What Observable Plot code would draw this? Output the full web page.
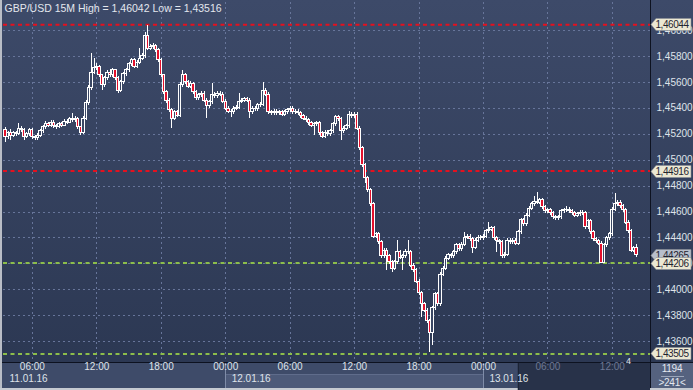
<!DOCTYPE html>
<html><head><meta charset="utf-8">
<script src="https://cdn.jsdelivr.net/npm/d3@7"></script>
<script src="https://cdn.jsdelivr.net/npm/@observablehq/plot@0.6"></script>
<style>
html,body{margin:0;padding:0;background:#ffffff;}
#wrap{position:relative;width:693px;height:390px;overflow:hidden;
  background:linear-gradient(to bottom,#3d4a69 0px,#2c3853 362px,#2c3853 390px);
  font-family:"Liberation Sans",Arial,sans-serif;}
#wrap .abs{position:absolute;}
#wrap svg{position:absolute;left:0;top:0;}
</style></head>
<body><div id="wrap">
  <div class="abs" style="left:0;top:363px;width:693px;height:27px;background:#3e4b69"></div>
  <div class="abs" style="left:0;top:362px;width:693px;height:1px;background:#0d1220"></div>
  <div class="abs" style="left:650px;top:0;width:1px;height:390px;background:#0d1220"></div>
  <div class="abs" style="left:651px;top:363px;width:42px;height:25px;background:#55627f"></div>
  <div class="abs" style="left:661px;top:376px;width:23px;height:1px;background:#9aa4b8"></div>
  <div class="abs" id="boxTop" style="left:651px;top:363px;width:42px;text-align:center;font-size:10px;letter-spacing:-0.3px;color:#e4e8ef"></div>
  <div class="abs" id="boxBot" style="left:651px;top:377px;width:42px;text-align:center;font-size:10px;letter-spacing:-0.3px;color:#e4e8ef"></div>
  <div class="abs" style="left:0;top:0;width:2px;height:390px;background:#b9bdc6"></div>
  <div class="abs" style="left:0;top:388px;width:693px;height:2px;background:#c6cad1"></div>
</div>
<script>
// ---------------- data ----------------
const titleText = "GBP/USD 15M High = 1,46042 Low = 1,43516";
const startTime = "2016-01-11T03:30:00Z";   // first 15-minute candle
const firstOpen = 1.45236;
const closes = [
1.45175,1.45206,1.45190,1.45206,1.45198,1.45244,1.45229,1.45182,1.45198,1.45229,
1.45175,1.45167,1.45190,1.45221,1.45252,1.45275,1.45267,1.45290,1.45260,1.45252,
1.45275,1.45267,1.45298,1.45290,1.45314,1.45306,1.45321,1.45252,1.45206,1.45321,
1.45437,1.45553,1.45676,1.45707,1.45722,1.45653,1.45576,1.45630,1.45676,1.45653,
1.45692,1.45630,1.45537,1.45599,1.45661,1.45692,1.45738,1.45769,1.45722,1.45753,
1.45784,1.45800,1.45961,1.45861,1.45869,1.45877,1.45846,1.45769,1.45653,1.45522,
1.45460,1.45383,1.45321,1.45368,1.45344,1.45576,1.45653,1.45599,1.45568,1.45584,
1.45522,1.45476,1.45499,1.45514,1.45460,1.45414,1.45445,1.45506,1.45491,1.45514,
1.45506,1.45452,1.45398,1.45375,1.45368,1.45398,1.45406,1.45452,1.45460,1.45468,
1.45460,1.45368,1.45398,1.45391,1.45422,1.45429,1.45537,1.45506,1.45368,1.45360,
1.45375,1.45360,1.45368,1.45352,1.45368,1.45383,1.45398,1.45368,1.45375,1.45360,
1.45337,1.45321,1.45306,1.45283,1.45267,1.45275,1.45283,1.45206,1.45182,1.45213,
1.45198,1.45221,1.45275,1.45329,1.45314,1.45221,1.45244,1.45260,1.45352,1.45337,
1.45352,1.45244,1.45090,1.44959,1.44859,1.44766,1.44658,1.44411,1.44427,1.44365,
1.44257,1.44303,1.44257,1.44211,1.44164,1.44211,1.44288,1.44249,1.44257,1.44295,
1.44288,1.44187,1.44149,1.44064,1.43972,1.43887,1.43840,1.43756,1.43663,1.43856,
1.43964,1.43887,1.44118,1.44164,1.44241,1.44265,1.44257,1.44288,1.44342,1.44311,
1.44349,1.44403,1.44411,1.44388,1.44326,1.44380,1.44403,1.44396,1.44411,1.44450,
1.44465,1.44473,1.44396,1.44373,1.44365,1.44257,1.44272,1.44380,1.44365,1.44380,
1.44357,1.44442,1.44535,1.44504,1.44573,1.44627,1.44658,1.44681,1.44673,1.44689,
1.44635,1.44604,1.44612,1.44589,1.44558,1.44550,1.44558,1.44604,1.44612,1.44619,
1.44604,1.44589,1.44573,1.44581,1.44596,1.44589,1.44481,1.44527,1.44442,1.44388,
1.44373,1.44357,1.44210,1.44342,1.44396,1.44427,1.44619,1.44658,1.44673,1.44643,
1.44612,1.44519,1.44450,1.44303,1.44319,1.44265];
const highs = [
1.45252,1.45221,1.45240,1.45221,1.45221,1.45283,1.45260,1.45244,1.45213,1.45244,
1.45244,1.45190,1.45206,1.45236,1.45267,1.45298,1.45290,1.45306,1.45306,1.45275,
1.45290,1.45290,1.45314,1.45314,1.45329,1.45360,1.45337,1.45329,1.45260,1.45337,
1.45460,1.45576,1.45823,1.45784,1.45745,1.45730,1.45661,1.45645,1.45692,1.45700,
1.45707,1.45700,1.45645,1.45615,1.45676,1.45707,1.45753,1.45784,1.45784,1.45769,
1.45861,1.45823,1.45984,1.46042,1.45892,1.45900,1.45892,1.45861,1.45784,1.45661,
1.45537,1.45476,1.45398,1.45383,1.45383,1.45599,1.45692,1.45668,1.45615,1.45607,
1.45599,1.45537,1.45514,1.45530,1.45530,1.45476,1.45460,1.45591,1.45522,1.45530,
1.45530,1.45522,1.45468,1.45414,1.45391,1.45414,1.45422,1.45514,1.45476,1.45483,
1.45483,1.45476,1.45414,1.45414,1.45437,1.45445,1.45599,1.45553,1.45522,1.45383,
1.45391,1.45391,1.45383,1.45383,1.45383,1.45398,1.45414,1.45414,1.45391,1.45391,
1.45375,1.45352,1.45337,1.45321,1.45298,1.45290,1.45298,1.45298,1.45221,1.45229,
1.45229,1.45236,1.45290,1.45344,1.45344,1.45329,1.45260,1.45275,1.45375,1.45368,
1.45368,1.45368,1.45260,1.45106,1.44974,1.44874,1.44781,1.44673,1.44442,1.44442,
1.44380,1.44319,1.44319,1.44273,1.44226,1.44226,1.44380,1.44303,1.44273,1.44311,
1.44380,1.44303,1.44203,1.44164,1.44079,1.43987,1.43902,1.43856,1.43771,1.43871,
1.43979,1.43979,1.44133,1.44180,1.44257,1.44280,1.44280,1.44303,1.44357,1.44357,
1.44365,1.44442,1.44427,1.44427,1.44403,1.44396,1.44419,1.44419,1.44427,1.44465,
1.44519,1.44488,1.44488,1.44411,1.44388,1.44380,1.44288,1.44396,1.44396,1.44396,
1.44396,1.44457,1.44550,1.44550,1.44588,1.44642,1.44673,1.44720,1.44751,1.44704,
1.44704,1.44650,1.44627,1.44627,1.44604,1.44573,1.44573,1.44619,1.44627,1.44642,
1.44635,1.44619,1.44604,1.44596,1.44612,1.44612,1.44604,1.44542,1.44542,1.44457,
1.44403,1.44388,1.44373,1.44357,1.44411,1.44442,1.44635,1.44743,1.44689,1.44689,
1.44658,1.44627,1.44534,1.44465,1.44334,1.44350];
const lows = [
1.45136,1.45160,1.45152,1.45175,1.45182,1.45190,1.45213,1.45152,1.45167,1.45182,
1.45160,1.45152,1.45152,1.45175,1.45206,1.45236,1.45252,1.45252,1.45244,1.45236,
1.45244,1.45252,1.45260,1.45275,1.45283,1.45290,1.45290,1.45236,1.45190,1.45198,
1.45306,1.45422,1.45537,1.45661,1.45692,1.45638,1.45537,1.45560,1.45615,1.45638,
1.45638,1.45615,1.45514,1.45522,1.45584,1.45645,1.45676,1.45722,1.45707,1.45707,
1.45738,1.45769,1.45784,1.45846,1.45846,1.45853,1.45830,1.45753,1.45638,1.45506,
1.45437,1.45368,1.45244,1.45306,1.45329,1.45329,1.45560,1.45584,1.45553,1.45553,
1.45506,1.45460,1.45460,1.45483,1.45445,1.45321,1.45398,1.45429,1.45476,1.45476,
1.45491,1.45437,1.45383,1.45360,1.45329,1.45352,1.45383,1.45391,1.45437,1.45445,
1.45445,1.45321,1.45352,1.45375,1.45375,1.45406,1.45414,1.45491,1.45352,1.45344,
1.45344,1.45344,1.45344,1.45337,1.45337,1.45352,1.45368,1.45352,1.45352,1.45344,
1.45321,1.45306,1.45290,1.45267,1.45252,1.45190,1.45260,1.45190,1.45167,1.45167,
1.45182,1.45182,1.45206,1.45260,1.45298,1.45152,1.45206,1.45229,1.45244,1.45321,
1.45321,1.45229,1.45075,1.44943,1.44820,1.44750,1.44642,1.44396,1.44396,1.44350,
1.44242,1.44242,1.44149,1.44195,1.44133,1.44149,1.44195,1.44234,1.44149,1.44242,
1.44273,1.44172,1.44133,1.44049,1.43956,1.43787,1.43825,1.43740,1.43516,1.43570,
1.43840,1.43871,1.43871,1.44103,1.44149,1.44226,1.44242,1.44242,1.44273,1.44295,
1.44295,1.44334,1.44388,1.44373,1.44280,1.44311,1.44365,1.44380,1.44380,1.44396,
1.44434,1.44450,1.44380,1.44288,1.44350,1.44242,1.44242,1.44257,1.44350,1.44350,
1.44342,1.44342,1.44427,1.44488,1.44488,1.44557,1.44611,1.44642,1.44658,1.44658,
1.44619,1.44588,1.44588,1.44573,1.44542,1.44535,1.44535,1.44542,1.44588,1.44596,
1.44588,1.44573,1.44557,1.44557,1.44565,1.44573,1.44465,1.44465,1.44427,1.44373,
1.44357,1.44342,1.44206,1.44206,1.44326,1.44380,1.44411,1.44604,1.44642,1.44627,
1.44596,1.44504,1.44434,1.44288,1.44288,1.44249];

const resistanceLevels = [1.46044, 1.44916];
const supportLevels = [1.44206, 1.43505];
const currentPrice = 1.44265;
const yTicks = [1.436,1.438,1.440,1.442,1.444,1.446,1.448,1.450,1.452,1.454,1.456,1.458,1.460];
const xTicks = ["2016-01-11T06:00Z","2016-01-11T12:00Z","2016-01-11T18:00Z","2016-01-12T00:00Z",
  "2016-01-12T06:00Z","2016-01-12T12:00Z","2016-01-12T18:00Z","2016-01-13T00:00Z",
  "2016-01-13T06:00Z","2016-01-13T12:00Z"].map(s => new Date(s));
const dayStarts = ["2016-01-11T00:00Z","2016-01-12T00:00Z","2016-01-13T00:00Z"].map(s => new Date(s));
const dayLabels = ["11.01.16","12.01.16","13.01.16"];
const shadeFrom = new Date("2016-01-13T03:15Z");   // dimmed part of the time bar
const markerLabel = "4";
const markerCandle = 232;
const barCount = "1194";
const visibleBars = ">241<";

// ---------------- build ----------------
const MIN = 60000;
const t0 = new Date(startTime);
const candles = closes.map((c, i) => ({
  date: new Date(+t0 + i * 15 * MIN),
  open: i ? closes[i - 1] : firstOpen,
  close: c, high: highs[i], low: lows[i]
}));
const bulls = candles.filter(d => d.close >= d.open);
const bears = candles.filter(d => d.close < d.open);
const xDomain = [new Date(+t0 - 11.17 * MIN), new Date(+t0 + 3603.2 * MIN)];
const fmtPrice = v => v.toFixed(5).replace(".", ",");
const fmtHM = d3.utcFormat("%H:%M");
const halfBody = 6.4 * MIN;

const tagData = [
  {value: resistanceLevels[0], fill: "#ebe8d3"},
  {value: resistanceLevels[1], fill: "#ebe8d3"},
  {value: currentPrice, fill: "#b8bfcb"},
  {value: supportLevels[0], fill: "#ebe8d3"},
  {value: supportLevels[1], fill: "#ebe8d3"}
];

function timeBar(index, scales, values, dims) {
  const g = d3.create("svg:g");
  const top = dims.height - dims.marginBottom;
  const right = dims.width - dims.marginRight;
  const x = scales.x;
  const a = x(dayStarts[1]), b = x(dayStarts[2]);
  g.append("rect").attr("x", a).attr("y", top + 12).attr("width", b - a).attr("height", 14).attr("fill", "#4d5a79");
  g.append("rect").attr("x", a).attr("y", top + 12).attr("width", b - a).attr("height", 1).attr("fill", "#5f6c8b");
  const s = x(shadeFrom);
  g.append("rect").attr("x", s).attr("y", top + 1).attr("width", right - s).attr("height", dims.height - top - 1).attr("fill", "#283249");
  g.append("rect").attr("x", s).attr("y", top + 1).attr("width", 1).attr("height", dims.height - top - 1).attr("fill", "#1a2133");
  for (const d of dayStarts) {
    const xd = x(d);
    if (xd > dims.marginLeft) g.append("rect").attr("x", Math.round(xd)).attr("y", top + 1).attr("width", 1).attr("height", dims.height - top - 3).attr("fill", "#7f8ca8");
  }
  return g.node();
}

function priceTags(index, scales, values, dims) {
  const g = d3.create("svg:g").attr("text-anchor", "start");
  const x0 = dims.width - dims.marginRight + 1;
  for (const t of tagData) {
    const y = Math.round(scales.y(t.value)) + 0.5;
    g.append("path")
      .attr("d", `M${x0},${y} L${x0 + 5},${y - 6} L${x0 + 40},${y - 6} L${x0 + 40},${y + 6} L${x0 + 5},${y + 6} Z`)
      .attr("fill", t.fill).attr("stroke", "#8a8f96").attr("stroke-width", 0.6);
    g.append("text").attr("x", x0 + 4.5).attr("y", y).attr("dy", "0.35em")
      .attr("text-anchor", "start")
      .attr("font-size", 10).attr("letter-spacing", "-0.45px").attr("fill", "#1f2430")
      .text(fmtPrice(t.value));
  }
  return g.node();
}

const gridStroke = "#67759a";
const plot = Plot.plot({
  width: 693, height: 390,
  marginTop: 2, marginRight: 43, marginBottom: 28, marginLeft: 3,
  style: {background: "transparent", color: "#dfe3ea", fontFamily: "'Liberation Sans', Arial, sans-serif", fontSize: "10px", overflow: "visible"},
  x: {type: "utc", domain: xDomain, axis: null},
  y: {domain: [1.4343926, 1.4621597], axis: null},
  marks: [
    timeBar,
    Plot.ruleX(xTicks, {stroke: gridStroke, strokeDasharray: "2,3", shapeRendering: "crispEdges"}),
    Plot.ruleY(yTicks, {stroke: gridStroke, strokeDasharray: "2,3", shapeRendering: "crispEdges"}),
    Plot.ruleY(resistanceLevels, {stroke: "#e3111f", strokeWidth: 2, strokeDasharray: "4,3.5"}),
    Plot.ruleY(supportLevels, {stroke: "#8cbd4b", strokeWidth: 2, strokeDasharray: "4,3.5"}),
    Plot.ruleX(candles, {x: "date", y1: "low", y2: "high", stroke: "#ffffff", strokeWidth: 1, shapeRendering: "crispEdges"}),
    Plot.rect(bulls, {x1: d => new Date(+d.date - halfBody), x2: d => new Date(+d.date + halfBody), y1: "open", y2: "close",
      fill: "#3a4764", stroke: "#ffffff", strokeWidth: 1, shapeRendering: "crispEdges"}),
    Plot.rect(bears, {x1: d => new Date(+d.date - halfBody), x2: d => new Date(+d.date + halfBody), y1: "open", y2: "close",
      fill: "#e3102c", stroke: "#ffffff", strokeWidth: 1, shapeRendering: "crispEdges"}),
    Plot.text([titleText], {frameAnchor: "top-left", dx: 1, dy: 2, lineAnchor: "top", textAnchor: "start",
      fill: "#e3e7ee", fontSize: 10.5, text: d => d, letterSpacing: "-0.35px"}),
    Plot.text([markerLabel], {x: () => candles[markerCandle].date, y: () => supportLevels[1], dy: 4, lineAnchor: "top",
      fill: "#e3e7ee", fontSize: 9, text: d => d}),
    Plot.text(yTicks, {y: d => d, frameAnchor: "right", dx: 6, textAnchor: "start", text: fmtPrice,
      fill: "#dfe3ea", fontSize: 10, letterSpacing: "-0.4px"}),
    priceTags,
    Plot.text(xTicks.filter(d => d < shadeFrom), {x: d => d, frameAnchor: "bottom", dy: 7.5, text: fmtHM,
      fill: "#dfe3ea", fontSize: 10, letterSpacing: "-0.3px"}),
    Plot.text(xTicks.filter(d => d >= shadeFrom), {x: d => d, frameAnchor: "bottom", dy: 7.5, text: fmtHM,
      fill: "#6d7894", fontSize: 10, letterSpacing: "-0.3px"}),
    Plot.text(dayLabels, {x: (d, i) => (dayStarts[i] < xDomain[0] ? xDomain[0] : dayStarts[i]), frameAnchor: "bottom",
      dx: 6, dy: 19, textAnchor: "start", text: d => d, fill: "#dfe3ea", fontSize: 10, letterSpacing: "-0.3px"})
  ]
});
document.getElementById("wrap").appendChild(plot);
document.getElementById("boxTop").textContent = barCount;
document.getElementById("boxBot").textContent = visibleBars;
</script>
</body></html>
